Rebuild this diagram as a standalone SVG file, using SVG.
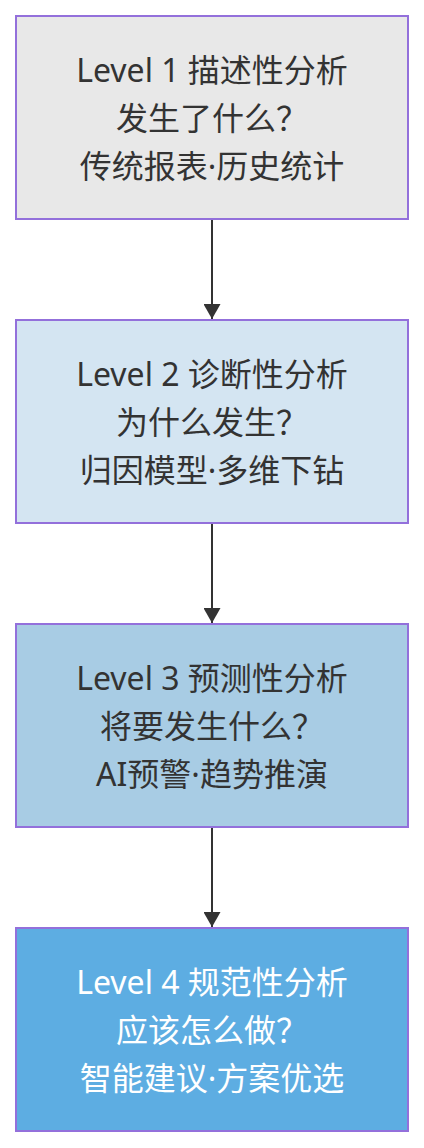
<svg xmlns="http://www.w3.org/2000/svg" width="424" height="1148" viewBox="0 0 424 1148">
<defs>
<style>
.box{stroke:#9370DB;stroke-width:2}
.t{font-family:"Noto Sans","Noto Sans CJK SC",sans-serif;font-size:32px;text-anchor:middle;fill:#333333}
.w{fill:#ffffff}
.edge{stroke:#333333;stroke-width:2;fill:none}
</style>
<marker id="arr" viewBox="0 0 15 17" refX="15" refY="8.5" markerWidth="15" markerHeight="17" markerUnits="userSpaceOnUse" orient="auto">
<path d="M0,0 L15,8.5 L0,17 z" fill="#333333"/>
</marker>
</defs>
<rect width="424" height="1148" fill="#ffffff"/>
<g id="connectors">
<path class="edge" d="M212,220 L212,319" marker-end="url(#arr)"/>
<path class="edge" d="M212,524 L212,623" marker-end="url(#arr)"/>
<path class="edge" d="M212,828 L212,927" marker-end="url(#arr)"/>
</g>
<g id="level1">
<rect class="box" x="16" y="16" width="392" height="203" fill="#e8e8e8"/>
<text class="t" x="212" y="82">Level 1 描述性分析</text>
<text class="t" x="212" y="130">发生了什么？</text>
<text class="t" x="212" y="178">传统报表·历史统计</text>
</g>
<g id="level2">
<rect class="box" x="16" y="320" width="392" height="203" fill="#d4e5f2"/>
<text class="t" x="212" y="386">Level 2 诊断性分析</text>
<text class="t" x="212" y="434">为什么发生？</text>
<text class="t" x="212" y="482">归因模型·多维下钻</text>
</g>
<g id="level3">
<rect class="box" x="16" y="624" width="392" height="203" fill="#a8cce4"/>
<text class="t" x="212" y="690">Level 3 预测性分析</text>
<text class="t" x="212" y="738">将要发生什么？</text>
<text class="t" x="212" y="786">AI预警·趋势推演</text>
</g>
<g id="level4">
<rect class="box" x="16" y="928" width="392" height="203" fill="#5dade2"/>
<text class="t w" x="212" y="994">Level 4 规范性分析</text>
<text class="t w" x="212" y="1042">应该怎么做？</text>
<text class="t w" x="212" y="1090">智能建议·方案优选</text>
</g>
</svg>
